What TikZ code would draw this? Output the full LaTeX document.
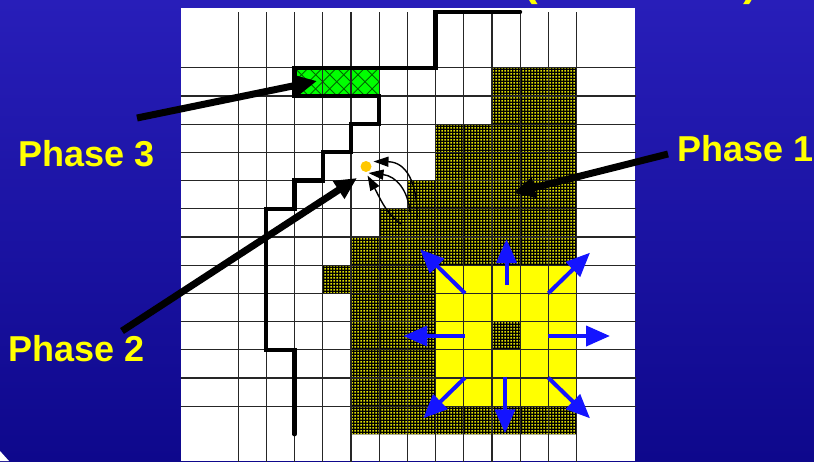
\documentclass[tikz,border=0pt]{standalone}
\usepackage{fontspec}
\setmainfont{Liberation Sans}
\usetikzlibrary{arrows.meta,patterns}
\pgfdeclarepatternformonly{ydots}{\pgfqpoint{0pt}{0pt}}{\pgfqpoint{3pt}{3pt}}{\pgfqpoint{3pt}{3pt}}{\pgfpathrectangle{\pgfqpoint{0.5pt}{0.5pt}}{\pgfqpoint{1.9pt}{1.9pt}}\pgfusepath{fill}}
\definecolor{bgtop}{RGB}{40,30,185}
\definecolor{bgmid}{RGB}{56,46,255}
\definecolor{bgbot}{RGB}{14,8,140}
\definecolor{lblyellow}{RGB}{255,255,0}
\definecolor{arrowblue}{RGB}{20,20,255}
\definecolor{dotorange}{RGB}{255,200,0}
\definecolor{dotyellow}{RGB}{225,225,0}
\definecolor{hatchgreen}{RGB}{0,100,0}
\definecolor{brightgreen}{RGB}{0,255,0}
\begin{document}
\begin{tikzpicture}[x=1pt,y=-1pt,
  gridln/.style={line width=1.2pt, draw=black!85},
  frontline/.style={line width=4.2pt, line cap=round, line join=miter},
  ptrarrow/.style={line width=7pt, -{Triangle[length=22pt,width=20pt]}},
  bluearrow/.style={line width=4pt, draw=arrowblue, -{Triangle[length=24pt,width=20pt]}},
  flowarrow/.style={line width=1.4pt, -{Triangle[length=15pt,width=10pt]}},
  phaselbl/.style={text=lblyellow, font=\fontsize{36}{40}\selectfont\bfseries, inner sep=0pt, anchor=base west},
  titlebit/.style={text=lblyellow, font=\fontsize{44}{48}\selectfont\bfseries, inner sep=0pt, anchor=base west},
  hatch/.style={line width=0.9pt, draw=hatchgreen},
  darkcell/.style={pattern=ydots, pattern color=dotyellow}]
\useasboundingbox (0,0) rectangle (814,461);
\clip (0,0) rectangle (814,461);
% background
\shade[top color=bgtop, middle color=bgmid, bottom color=bgbot] (0,0) rectangle (814,461);
\fill[white] (0,451) -- (9,461) -- (0,461) -- cycle;
% title fragments (cut off at the top edge, as in the reference)
\node[titlebit] (tl) at (523,-4.5) {(};
\node[titlebit] (tr) at (743,-4.5) {)};
% panel
\fill[white] (181,8) rectangle (635,461);
\begin{scope}[shift={(181.7,11.3)}, x=28.2pt, y=-28.2pt]
  % dark region
  \def\darkpoly{(11,2) -- (14,2) -- (14,15) -- (6,15) -- (6,10) -- (5,10) -- (5,9) -- (6,9) -- (6,8) -- (7,8) -- (7,7) -- (8,7) -- (8,6) -- (9,6) -- (9,4) -- (11,4) -- cycle}
  \fill[black] \darkpoly;
  \fill[darkcell] \darkpoly;
  % yellow block
  \fill[lblyellow] (9,9) rectangle (14,14);
  \fill[black] (11,11) rectangle (12,12);
  \fill[darkcell] (11,11) rectangle (12,12);
  % green hatched cells
  \fill[brightgreen] (4,2) rectangle (7,3);
  \begin{scope}
    \clip (4,2) rectangle (7,3);
    \foreach \k in {-2,...,8} {
      \draw[hatch] ({4+0.5*\k},2) -- ++(1,1);
      \draw[hatch] ({4+0.5*\k},2) -- ++(-1,1);
    }
  \end{scope}
  % grid
  \foreach \c in {2,...,14} \draw[gridln] (\c,0.03) -- (\c,16);
  \foreach \r in {2,...,14} \draw[gridln] (-0.03,\r) -- (16.1,\r);
  % front
  \draw[frontline] (12,0.02) -- (9,0.02) -- (9,2) -- (4,2) -- (4,3) -- (7,3) -- (7,4) -- (6,4) -- (6,5) -- (5,5) -- (5,6) -- (4,6) -- (4,7) -- (3,7) -- (3,12) -- (4,12) -- (4,15);
\end{scope}
% dot and curved arrows
\node[circle, fill=dotorange, inner sep=0pt, minimum size=11pt] (dot) at (366,166.5) {};
\coordinate (fa0) at (417,220);
\coordinate (fa1) at (373.5,161.5);
\coordinate (fb0) at (410,212);
\coordinate (fb1) at (368.5,173);
\coordinate (fc0) at (401,224);
\coordinate (fc1) at (367.5,175.5);
\draw[flowarrow] (fa0) .. controls (418,182) and (406,162) .. (fa1);
\draw[flowarrow] (fb0) .. controls (408,190) and (396,176) .. (fb1);
\draw[flowarrow] (fc0) .. controls (386,214) and (379,196) .. (fc1);
% blue spreading arrows
\foreach \n/\sx/\sy/\tx/\ty in {N/506.5/285/506.5/239, NW/465/293.3/420/249.3, NE/548.3/293.3/590/252.7, W/465/336/403.3/336, E/547.7/336/610/336, SW/465/377.7/423.3/418.3, S/505/376.7/505/433.3, SE/548.3/377.7/590/418.3} {
  \coordinate (bs\n) at (\sx,\sy);
  \coordinate (bt\n) at (\tx,\ty);
  \draw[bluearrow] (bs\n) -- (bt\n);
}
% labels and pointers
\node[phaselbl] (p3) at (18.3,166.7) {Phase 3};
\node[phaselbl] (p2) at (8.3,361.7) {Phase 2};
\node[phaselbl] (p1) at (677.3,161.7) {Phase 1};
\coordinate (p3s) at (137,118);
\coordinate (p3t) at (317,81);
\coordinate (p2s) at (122,331);
\coordinate (p2t) at (357,178);
\coordinate (p1s) at (668,154);
\coordinate (p1t) at (513,193);
\draw[ptrarrow] (p3s) -- (p3t);
\draw[ptrarrow] (p2s) -- (p2t);
\draw[ptrarrow] (p1s) -- (p1t);
\end{tikzpicture}
\end{document}
